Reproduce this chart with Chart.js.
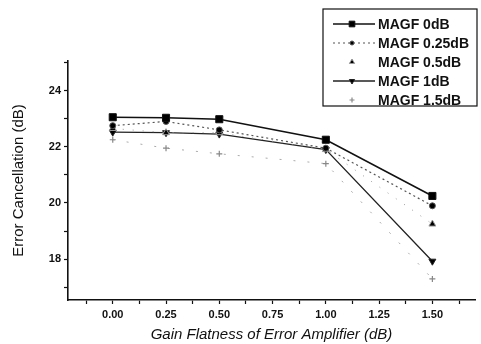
<!DOCTYPE html>
<html>
<head>
<meta charset="utf-8">
<script src="https://cdn.jsdelivr.net/npm/chart.js@4.4.0/dist/chart.umd.min.js"></script>
<style>
  html, body { margin: 0; padding: 0; background: #fff; }
  #wrap { width: 481px; height: 344px; }
</style>
</head>
<body>
<div id="wrap"><canvas id="chart" width="481" height="344"></canvas></div>
<script>
// Gain flatness values (dB)
var gainFlatness = [0, 0.25, 0.5, 1.0, 1.5];

// Error cancellation (dB) per MAGF setting
var magf0 = [23.05, 23.03, 22.98, 22.25, 20.25];
var magf025 = [22.75, 22.9, 22.6, 21.95, 19.9];
var magf05 = [22.65, 22.5, 22.5, 21.9, 19.25];
var magf1 = [22.52, 22.5, 22.45, 21.9, 17.93];
var magf15 = [22.25, 21.95, 21.75, 21.4, 17.3];

var seriesLabels = ["MAGF 0dB", "MAGF 0.25dB", "MAGF 0.5dB", "MAGF 1dB", "MAGF 1.5dB"];

var xTicks = [-0.125, 0, 0.125, 0.25, 0.375, 0.5, 0.625, 0.75, 0.875, 1.0, 1.125, 1.25, 1.375, 1.5, 1.625];
var xLabels = [0, 0.25, 0.5, 0.75, 1.0, 1.25, 1.5];
var yTicks = [17, 18, 19, 20, 21, 22, 23, 24, 25];
var yLabels = [18, 20, 22, 24];

function pts(ys) {
  return gainFlatness.map(function (x, i) { return { x: x, y: ys[i] }; });
}

var FONT = "'Liberation Sans', Arial, Helvetica, sans-serif";

var styles = [
  { color: "#111", width: 1.6, dash: [], point: "rect", radius: 5, rot: 0 },
  { color: "#555", width: 1.2, dash: [2, 3], point: "circle", radius: 3, rot: 0 },
  { color: "#999", width: 1, dash: [1, 9], point: "triangle", radius: 4, rot: 0 },
  { color: "#222", width: 1.3, dash: [], point: "triangle", radius: 4, rot: 180 },
  { color: "#aaa", width: 1, dash: [2, 12], point: "cross", radius: 3, rot: 0 }
];
var seriesData = [magf0, magf025, magf05, magf1, magf15];

var datasets = seriesData.map(function (d, i) {
  var s = styles[i];
  return {
    label: seriesLabels[i],
    data: pts(d),
    borderColor: s.color,
    backgroundColor: s.color,
    borderWidth: s.width,
    borderDash: s.dash,
    pointStyle: s.point,
    pointRadius: s.radius,
    pointRotation: s.rot,
    pointBorderColor: s.point === "cross" ? "#888" : s.color,
    pointBackgroundColor: s.point === "cross" ? "#888" : "#000",
    pointBorderWidth: s.point === "cross" ? 1.2 : 1,
    tension: 0
  };
});

// legend box drawn inside the upper right corner
var boxLegend = {
  id: "boxLegend",
  afterDraw: function (chart) {
    var ctx = chart.ctx;
    var x0 = 323, y0 = 9, w = 154, h = 97;
    ctx.save();
    ctx.fillStyle = "#fff";
    ctx.fillRect(x0, y0, w, h);
    ctx.strokeStyle = "#111";
    ctx.lineWidth = 1.2;
    ctx.strokeRect(x0, y0, w, h);
    chart.data.datasets.forEach(function (ds, i) {
      var s = styles[i];
      var y = 24 + i * 19;
      if (i !== 2 && i !== 4) {
        ctx.beginPath();
        ctx.setLineDash(s.dash);
        ctx.strokeStyle = s.color;
        ctx.lineWidth = s.width;
        ctx.moveTo(333, y);
        ctx.lineTo(375, y);
        ctx.stroke();
      }
      ctx.setLineDash([]);
      ctx.fillStyle = ds.pointBackgroundColor;
      ctx.strokeStyle = ds.pointBorderColor;
      ctx.lineWidth = ds.pointBorderWidth;
      Chart.helpers.drawPoint(ctx, {
        pointStyle: s.point,
        radius: s.point === "cross" ? 2.5 : s.radius - 1,
        rotation: s.rot,
        borderWidth: ds.pointBorderWidth
      }, 352, y);
      ctx.fillStyle = "#111";
      ctx.font = "bold 14px " + FONT;
      ctx.textBaseline = "middle";
      ctx.fillText(ds.label, 378, y + 1);
    });
    ctx.restore();
  }
};

var ctx = document.getElementById("chart").getContext("2d");
var chart = new Chart(ctx, {
  type: "line",
  data: { datasets: datasets },
  plugins: [boxLegend],
  options: {
    responsive: false,
    animation: false,
    layout: { padding: { top: 61, right: 3, left: 0, bottom: 0 } },
    plugins: { legend: { display: false }, tooltip: { enabled: false } },
    scales: {
      x: {
        type: "linear",
        min: -0.21,
        max: 1.7,
        afterBuildTicks: function (scale) {
          scale.ticks = xTicks.map(function (v) { return { value: v }; });
        },
        afterFit: function (scale) { scale.height = 44; },
        border: { color: "#111", width: 1.6 },
        grid: { drawOnChartArea: false, tickLength: 4, tickColor: "#111", tickWidth: 1.2 },
        ticks: {
          autoSkip: false,
          maxRotation: 0,
          padding: 4,
          color: "#111",
          font: { family: FONT, size: 11, weight: "bold" },
          callback: function (v) { return xLabels.indexOf(v) >= 0 ? v.toFixed(2) : ""; }
        },
        title: {
          display: true,
          text: "Gain Flatness of Error Amplifier (dB)",
          color: "#111",
          font: { family: FONT, size: 15, style: "italic" },
          padding: { top: 7, bottom: 0 }
        }
      },
      y: {
        type: "linear",
        min: 16.55,
        max: 25.05,
        afterBuildTicks: function (scale) {
          scale.ticks = yTicks.map(function (v) { return { value: v }; });
        },
        afterFit: function (scale) { scale.width = 68; },
        border: { color: "#111", width: 1.6 },
        grid: { drawOnChartArea: false, tickLength: 4, tickColor: "#111", tickWidth: 1.2 },
        ticks: {
          autoSkip: false,
          padding: 3,
          color: "#111",
          font: { family: FONT, size: 11, weight: "bold" },
          callback: function (v) { return yLabels.indexOf(v) >= 0 ? String(v) : ""; }
        },
        title: {
          display: true,
          text: "Error Cancellation (dB)",
          color: "#111",
          font: { family: FONT, size: 15 },
          padding: { top: 10, bottom: 0 }
        }
      }
    }
  }
});
</script>
</body>
</html>
